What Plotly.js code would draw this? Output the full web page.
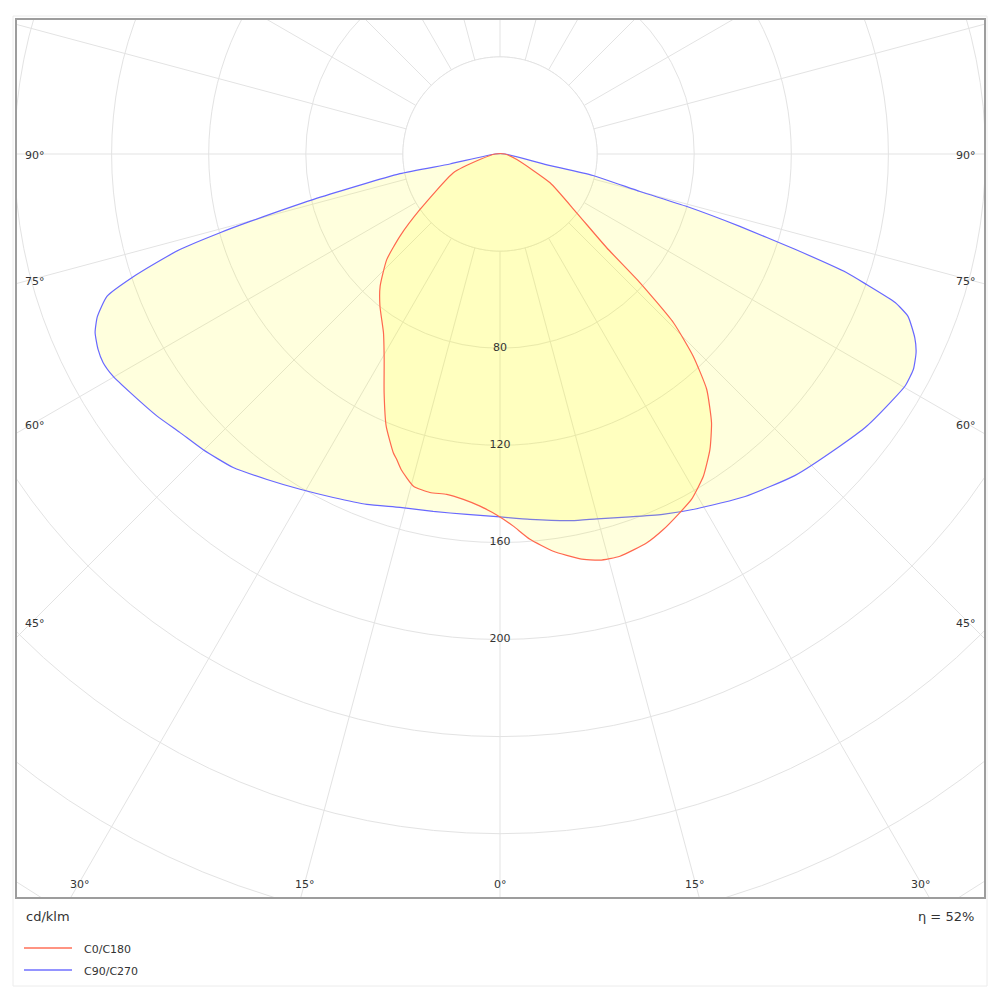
<!DOCTYPE html>
<html><head><meta charset="utf-8">
<script src="https://cdn.plot.ly/plotly-3.0.1.min.js"></script>
<style>
html,body{margin:0;padding:0;background:#fff;}
#page{position:relative;width:1000px;height:1000px;overflow:hidden;background:#fff;}
#clip{position:absolute;left:16px;top:18px;width:969px;height:880px;overflow:hidden;}
#polar{position:absolute;left:-487px;top:-835px;width:1942px;height:1942px;}
#overlay{position:absolute;left:0;top:0;width:1000px;height:1000px;pointer-events:none;}
</style></head><body>
<div id="page"><div id="clip"><div id="polar"></div></div><div id="overlay"></div></div>
<script>
// ---------- data (cd/klm vs gamma angle in degrees) ----------
// C0 (right half of the C0/C180 plane)
const c0Gamma = [0, 2.05, 4.45, 7.64, 11.2, 13.8, 16.6, 20.7, 23.5, 26.6, 29.0, 32.25, 35.4, 38.2, 41.3, 43.7, 45.8, 47.4, 48.7, 52.5, 60.1, 71.8, 90];
const c0I     = [149.5, 153.4, 159.2, 165.1, 170.0, 172.3, 172.9, 171.2, 168.7, 165.3, 162.7, 157.0, 149.3, 140.9, 129.0, 115.2, 99.7, 78.4, 58.5, 39.8, 23.8, 7.3, 2];
// C180 (left half)
const c180Gamma = [0, 3.25, 6.06, 8.9, 11.7, 14.6, 17.4, 18.7, 19.65, 22.7, 25.9, 29.4, 33.1, 38.3, 42.2, 47.0, 50.6, 55.25, 68.1, 74.6, 90];
const c180I     = [149.5, 145.3, 143.1, 141.9, 142.4, 141.4, 136.2, 132.8, 130.7, 121.5, 109.3, 97.2, 87.9, 79.8, 73.5, 63.8, 53.3, 40.1, 20.7, 8.6, 2];
// C90 (right half of the C90/C270 plane)
const c90Gamma = [0, 4.7, 11.1, 14.9, 19.7, 24.3, 29.0, 35.6, 42.5, 49.3, 53.4, 57.5, 60.2, 62.5, 64.5, 66.1, 68.3, 69.4, 70.4, 71.1, 72.1, 73.2, 74.3, 75.0, 77.0, 77.1, 90];
const c90I     = [149.5, 151.0, 153.9, 155.5, 158.8, 162.9, 167.1, 173.5, 179.7, 184.6, 188.1, 190.6, 192.3, 192.0, 189.9, 186.9, 180.9, 173.9, 160.3, 151.0, 127.7, 103.2, 80.0, 59.7, 39.3, 19.0, 2];
// C270 (left half)
const c270Gamma = [0, 5.23, 10.6, 15.8, 20.8, 25.9, 30.8, 35.6, 40.4, 45.1, 49.0, 52.6, 57.2, 60.1, 62.3, 64.1, 66.2, 68.0, 70.1, 71.5, 72.9, 73.4, 74.3, 74.9, 76.3, 78.9, 78.7, 90];
const c270I     = [149.5, 149.1, 149.8, 151.3, 154.4, 157.3, 160.8, 164.9, 169.6, 172.6, 174.8, 177.8, 181.3, 183.8, 184.7, 184.1, 182.3, 178.9, 172.2, 159.3, 143.5, 137.6, 119.8, 106.6, 79.3, 42.0, 21.0, 2];

const legendNames  = ['C0/C180', 'C90/C270'];
const lineColors   = ['rgb(255,104,78)', 'rgb(104,104,255)'];
const radialTicks  = [80, 120, 160, 200];
const radialTickText = ['80', '120', '160', '200'];
const leftAngleLabels   = ['90°', '75°', '60°', '45°'];
const rightAngleLabels  = ['90°', '75°', '60°', '45°'];
const bottomAngleLabels = ['30°', '15°', '0°', '15°', '30°'];
const unitLabel = 'cd/klm';
const efficiencyLabel = 'η = 52%';

// ---------- style ----------
const FONT = 'DejaVu Sans, Verdana, sans-serif';
const TXT = '#333333';
const GRID = '#e3e3e3';
const RMAX = 400;
const innerRing = 40;

function planeTrace(leftG, leftI, rightG, rightI, name, color) {
  const theta = leftG.map(g => -g).concat(rightG.slice().reverse());
  const r = leftI.concat(rightI.slice().reverse());
  return {
    type: 'scatterpolar', mode: 'lines', name: name, r: r, theta: theta,
    fill: 'toself', fillcolor: 'rgba(255,253,0,0.135)',
    line: {color: color, width: 1.2, shape: 'spline', smoothing: 0.5},
    showlegend: false, hoverinfo: 'skip'
  };
}

// white central disc (hides spokes inside the inner ring)
const ringTheta = [], ringR = [];
for (let t = 0; t <= 360; t += 2) { ringTheta.push(t); ringR.push(innerRing); }

const traces = [
  {type: 'scatterpolar', mode: 'lines', r: ringR, theta: ringTheta, fill: 'toself',
   fillcolor: '#ffffff', line: {color: GRID, width: 1}, showlegend: false, hoverinfo: 'skip'},
  planeTrace(c270Gamma, c270I, c90Gamma, c90I, legendNames[1], lineColors[1]),
  planeTrace(c180Gamma, c180I, c0Gamma, c0I, legendNames[0], lineColors[0]),
  {type: 'scatterpolar', mode: 'text', r: radialTicks, theta: radialTicks.map(() => 0),
   text: radialTickText, textposition: 'middle center',
   textfont: {family: FONT, size: 11, color: TXT}, showlegend: false, hoverinfo: 'skip'}
];

const layout = {
  width: 1942, height: 1942, autosize: false,
  margin: {l: 0, r: 0, t: 0, b: 0, pad: 0},
  paper_bgcolor: '#ffffff', showlegend: false,
  font: {family: FONT, size: 11, color: TXT},
  polar: {
    domain: {x: [0, 1], y: [0, 1]},
    bgcolor: '#ffffff',
    radialaxis: {range: [0, RMAX], tick0: 0, dtick: 40, showticklabels: false, ticks: '',
                 showline: false, gridcolor: GRID, gridwidth: 1},
    angularaxis: {rotation: -90, direction: 'counterclockwise', dtick: 15, tick0: 0,
                  showticklabels: false, ticks: '', showline: false, gridcolor: GRID, gridwidth: 1}
  }
};
Plotly.newPlot('polar', traces, layout, {staticPlot: true, displayModeBar: false});

// ---------- overlay: frame, angle labels, units, legend ----------
const ann = [];
const leftY = [155, 281, 425, 623];
leftAngleLabels.forEach((t, i) => ann.push({x: 23, y: leftY[i], text: t, xanchor: 'left'}));
rightAngleLabels.forEach((t, i) => ann.push({x: 978, y: leftY[i], text: t, xanchor: 'right'}));
const bottomX = [80, 305, 500, 695, 921];
bottomAngleLabels.forEach((t, i) => ann.push({x: bottomX[i], y: 884, text: t, xanchor: 'center'}));
ann.forEach(a => { a.font = {family: FONT, size: 11, color: TXT}; });
ann.push({x: 24, y: 916, text: unitLabel, xanchor: 'left', font: {family: FONT, size: 13, color: TXT}});
ann.push({x: 976, y: 916, text: efficiencyLabel, xanchor: 'right', font: {family: FONT, size: 13, color: TXT}});
const legY = [949, 971];
legendNames.forEach((n, i) => ann.push({x: 82, y: legY[i], text: n, xanchor: 'left',
  font: {family: FONT, size: 11, color: TXT}}));
ann.forEach(a => { a.xref = 'x'; a.yref = 'y'; a.showarrow = false; a.yanchor = 'middle'; });

const shapes = [
  {type: 'rect', xref: 'x', yref: 'y', x0: 13, y0: 16, x1: 987, y1: 986, line: {color: '#ececec', width: 1}},
  {type: 'rect', xref: 'x', yref: 'y', x0: 16, y0: 19, x1: 985, y1: 898, line: {color: '#9d9d9d', width: 2}}
];
legendNames.forEach((n, i) => shapes.push({type: 'line', xref: 'x', yref: 'y', x0: 24, x1: 72,
  y0: legY[i] - 1, y1: legY[i] - 1, line: {color: lineColors[i], width: 2}, opacity: 0.7}));

Plotly.newPlot('overlay', [], {
  width: 1000, height: 1000, autosize: false,
  margin: {l: 0, r: 0, t: 0, b: 0, pad: 0},
  paper_bgcolor: 'rgba(0,0,0,0)', plot_bgcolor: 'rgba(0,0,0,0)',
  xaxis: {range: [0, 1000], visible: false, fixedrange: true},
  yaxis: {range: [1000, 0], visible: false, fixedrange: true},
  annotations: ann, shapes: shapes, showlegend: false
}, {staticPlot: true, displayModeBar: false});
</script>
</body></html>
